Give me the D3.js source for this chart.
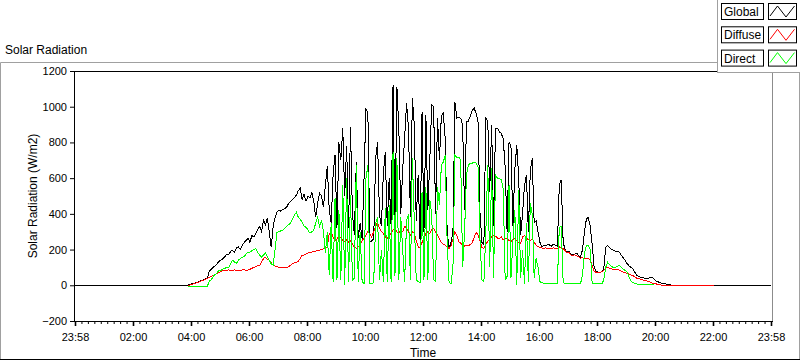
<!DOCTYPE html>
<html>
<head>
<meta charset="utf-8">
<script src="https://cdn.jsdelivr.net/npm/d3@7"></script>
<style>
  body { margin: 0; background: #fff; }
  svg { display: block; font-family: "Liberation Sans", Arial, sans-serif; }
  .trace { fill: none; stroke-width: 1; shape-rendering: crispEdges; }
</style>
</head>
<body>
<svg id="vis" width="800" height="361"></svg>
<script>
var WIDTH = 800, HEIGHT = 361;
var PLOT = {left: 74, right: 772, top: 71, bottom: 321};

// waveform: first sample at 03:40, one sample every 4 minutes (minutes of the day)
var t0 = 220;
var dt = 4;
var timeDomain = [-2, 1438];          // 23:58 .. 23:58
var nightGlobal = [0, 0];            // global value at the chart start and end

var xTickLabels = ["23:58", "02:00", "04:00", "06:00", "08:00", "10:00", "12:00",
                   "14:00", "16:00", "18:00", "20:00", "22:00", "23:58"];
var yTicks = [-200, 0, 200, 400, 600, 800, 1000, 1200];

var seriesNames = ["Global", "Diffuse", "Direct"];
var seriesColors = ["#000000", "#ff0000", "#00ff00"];

var globalRad = [
  0,0,0,2,5,8,10,15,18,22,28,30,35,40,
  80,90,100,110,120,135,140,150,160,175,170,190,196,185,210,215,
  200,224,240,250,263,240,280,270,292,310,330,300,364,340,375,
  300,213,330,380,409,420,415,425,430,437,460,470,480,490,505,
  530,544,480,510,470,500,488,520,470,380,460,516,500,437,560,
  670,420,350,620,730,320,800,700,880,500,780,320,886,400,280,
  690,263,350,260,600,990,960,241,250,260,712,800,392,330,633,
  746,330,600,330,1121,300,1110,880,400,650,824,1020,880,380,1048,
  900,360,620,241,970,300,953,420,700,1009,1000,400,936,700,950,
  964,820,297,207,240,300,1026,936,940,936,897,420,914,920,950,
  980,992,960,914,400,240,230,936,920,520,897,330,880,880,860,
  850,820,660,297,802,780,330,650,785,600,280,400,560,617,300,
  640,712,350,360,300,240,215,225,220,230,225,220,230,225,220,
  560,590,240,200,185,190,175,170,175,180,165,157,200,300,370,
  380,330,230,100,80,73,73,75,90,213,224,210,200,196,190,
  190,185,170,155,140,123,110,100,95,75,56,50,45,42,40,
  39,40,42,45,35,25,20,15,12,11,8,5,3,0,0,
  0,0,0,0,0,0,0,0,0,0,0,0,0,0,0,0,0,0,0,0,0
];

var diffuseRad = [
  null,null,null,0,2,5,8,12,15,20,25,28,32,40,45,
  50,56,60,65,72,78,82,84,84,86,84,84,86,84,84,
  84,86,88,84,86,90,95,100,105,110,112,130,150,157,145,
  140,125,112,108,104,100,98,100,100,100,105,112,120,125,129,
  135,150,168,170,175,180,185,185,190,192,196,196,200,205,213,
  215,290,300,270,250,260,280,265,250,245,255,240,250,230,215,
  207,215,230,250,265,280,300,290,270,300,330,353,320,300,290,
  270,260,280,290,310,320,300,290,310,300,330,320,300,280,300,
  290,250,215,210,240,260,290,300,290,310,320,300,280,260,240,
  230,225,215,207,220,260,300,280,245,235,224,220,225,222,228,
  240,270,297,280,250,210,207,230,245,260,270,280,275,265,260,
  270,255,265,260,250,245,255,262,250,240,235,270,280,265,255,
  250,260,240,225,215,213,210,205,210,205,208,205,210,205,205,
  215,210,205,195,180,185,170,168,170,165,160,151,155,150,152,
  151,140,110,80,73,73,73,75,85,95,100,95,92,90,90,
  88,85,80,75,70,67,62,58,55,48,40,38,35,30,28,
  25,22,18,12,10,8,5,3,0,0,0,0,0,0,0,
  0,0,0,0,0,0,0,0,0,0,0,0,0,0,0,0,0,0,0,0,0
];

var directRad = [
  null,null,null,-5,-5,-5,-5,-5,-5,-5,-5,-5,-5,-5,25,
  30,50,60,70,84,84,90,95,100,100,120,140,130,123,140,
  150,157,160,175,185,185,195,200,207,185,170,157,170,180,160,
  140,120,112,200,297,300,305,308,320,330,340,347,370,395,409,
  381,370,353,330,325,310,292,300,308,350,381,330,364,300,180,
  300,56,350,20,488,30,420,30,560,0,600,20,505,30,40,
  672,20,300,20,10,600,672,10,10,15,350,380,30,200,20,
  430,20,450,20,746,50,712,30,380,200,20,360,400,30,712,
  360,30,20,15,520,30,550,30,480,400,30,20,550,450,672,
  690,729,240,15,10,100,729,717,717,700,100,300,620,672,684,
  684,690,684,660,250,30,20,300,672,100,656,40,617,600,600,
  590,540,28,50,560,40,250,420,0,533,40,200,10,350,20,
  460,400,40,150,100,20,15,12,10,10,12,10,10,12,10,
  325,330,15,10,10,8,10,8,10,10,8,10,60,180,224,
  224,200,11,10,8,10,10,8,30,100,129,115,105,100,100,
  105,112,100,90,84,75,50,25,15,10,8,5,5,5,4,
  4,3,3,3,2,null,null,null,null,null,null,null,null,null,null,
  null,null,null,null,null,null,null,null,null,null,null,null,null,null,null,null,null,null,null,null,null
];

window.onload = run;

function run() {
    var display = d3.select("#vis");
    var xScale, yScale, minorTicks, majorTicks;

    setupScales();
    drawFrame();
    drawAxes();
    drawTraces();
    drawLegend();

    function setupScales() {
        xScale = d3.scaleLinear().domain(timeDomain).range([PLOT.left + 1, PLOT.right - 1]);
        yScale = d3.scaleLinear().domain([yTicks[0], yTicks[yTicks.length - 1]])
            .range([PLOT.bottom, PLOT.top]);
        majorTicks = xTickLabels.map(function (d, i) { return timeDomain[0] + i * 120; });
        minorTicks = [];
        majorTicks.slice(0, -1).forEach(function (m) {
            for (var k = 1; k < 9; k++) minorTicks.push(m + k * 120 / 9);
        });
    }

    // panel border, title and plot box
    function drawFrame() {
        display.append("rect").attr("width", WIDTH).attr("height", HEIGHT).attr("fill", "#fff");
        display.append("path")
            .attr("d", "M0.5,359 V62.5 H799.5 V359")
            .attr("fill", "none").attr("stroke", "#a0a0a0");
        display.append("line")
            .attr("x1", 0).attr("x2", WIDTH).attr("y1", 359.5).attr("y2", 359.5)
            .attr("stroke", "#000");
        display.append("text")
            .attr("x", 5).attr("y", 54)
            .style("font-size", "12px")
            .text("Solar Radiation");
        display.append("line")
            .attr("x1", PLOT.left).attr("x2", PLOT.right + 1)
            .attr("y1", PLOT.top + 0.5).attr("y2", PLOT.top + 0.5)
            .attr("stroke", "#000");
        display.append("line")
            .attr("x1", PLOT.right + 0.5).attr("x2", PLOT.right + 0.5)
            .attr("y1", PLOT.top).attr("y2", PLOT.bottom)
            .attr("stroke", "#8c8c8c");
    }

    function drawAxes() {
        var yAxis = d3.axisLeft(yScale).tickValues(yTicks).tickSizeInner(4).tickSizeOuter(0)
            .tickPadding(3).tickFormat(d3.format("d"));
        var gy = display.append("g")
            .attr("transform", "translate(" + PLOT.left + ",0)")
            .call(yAxis);
        gy.selectAll("text").style("font-size", "11px").attr("fill", "#000");

        var xMinor = d3.axisBottom(xScale).tickValues(minorTicks).tickSize(3).tickFormat("");
        var gm = display.append("g")
            .attr("transform", "translate(0," + PLOT.bottom + ")")
            .call(xMinor);
        gm.select(".domain").remove();

        var xAxis = d3.axisBottom(xScale).tickValues(majorTicks).tickSizeInner(5).tickSizeOuter(0)
            .tickPadding(7)
            .tickFormat(function (d, i) { return xTickLabels[i]; });
        var gx = display.append("g")
            .attr("transform", "translate(0," + PLOT.bottom + ")")
            .call(xAxis);
        gx.select(".domain").attr("d", "M" + PLOT.left + ",0.5H" + (PLOT.right + 1));
        gx.selectAll(".tick line").attr("stroke-width", 1.6);
        gx.selectAll("text").style("font-size", "11px").attr("fill", "#000");

        display.append("text")
            .attr("x", (PLOT.left + PLOT.right) / 2)
            .attr("y", 357)
            .attr("text-anchor", "middle")
            .style("font-size", "12px")
            .text("Time");
        display.append("text")
            .attr("transform", "translate(37," + ((PLOT.top + PLOT.bottom) / 2) + ") rotate(-90)")
            .attr("text-anchor", "middle")
            .style("font-size", "12px")
            .text("Solar Radiation (W/m2)");
    }

    function drawTraces() {
        var line = d3.line()
            .defined(function (d) { return d[1] !== null; })
            .x(function (d) { return xScale(d[0]); })
            .y(function (d) { return yScale(d[1]); });

        function toPoints(values) {
            return values.map(function (v, i) { return [t0 + i * dt, v]; });
        }

        var globalPts = [[timeDomain[0], nightGlobal[0]]]
            .concat(toPoints(globalRad))
            .concat([[timeDomain[1], nightGlobal[1]]]);
        var traces = [globalPts, toPoints(diffuseRad), toPoints(directRad)];

        display.append("g")
            .selectAll("path")
            .data(traces)
            .enter()
            .append("path")
            .attr("class", "trace")
            .attr("stroke", function (d, i) { return seriesColors[i]; })
            .attr("d", line);
    }

    function drawLegend() {
        var box = display.append("g");
        box.append("rect")
            .attr("x", 717.5).attr("y", -1).attr("width", 84).attr("height", 73.5)
            .attr("fill", "#fff").attr("stroke", "#a0a0a0");

        var items = box.selectAll(".legend")
            .data(seriesNames)
            .enter()
            .append("g")
            .attr("class", "legend")
            .attr("transform", function (d, i) { return "translate(0," + (3 + i * 23.3) + ")"; });

        items.append("rect")
            .attr("x", 721.5).attr("y", 0.5).attr("width", 42).attr("height", 16)
            .attr("fill", "#fff").attr("stroke", "#000");
        items.append("text")
            .attr("x", 724).attr("y", 13)
            .style("font-size", "12px")
            .text(function (d) { return d; });
        items.append("rect")
            .attr("x", 768.5).attr("y", 0.5).attr("width", 28).attr("height", 16)
            .attr("fill", "#fff").attr("stroke", "#000");
        items.append("path")
            .attr("d", "M770,13 L777.5,3 L786,14 L794.5,3")
            .attr("fill", "none")
            .attr("stroke", function (d, i) { return seriesColors[i]; });
    }
}
</script>
</body>
</html>
